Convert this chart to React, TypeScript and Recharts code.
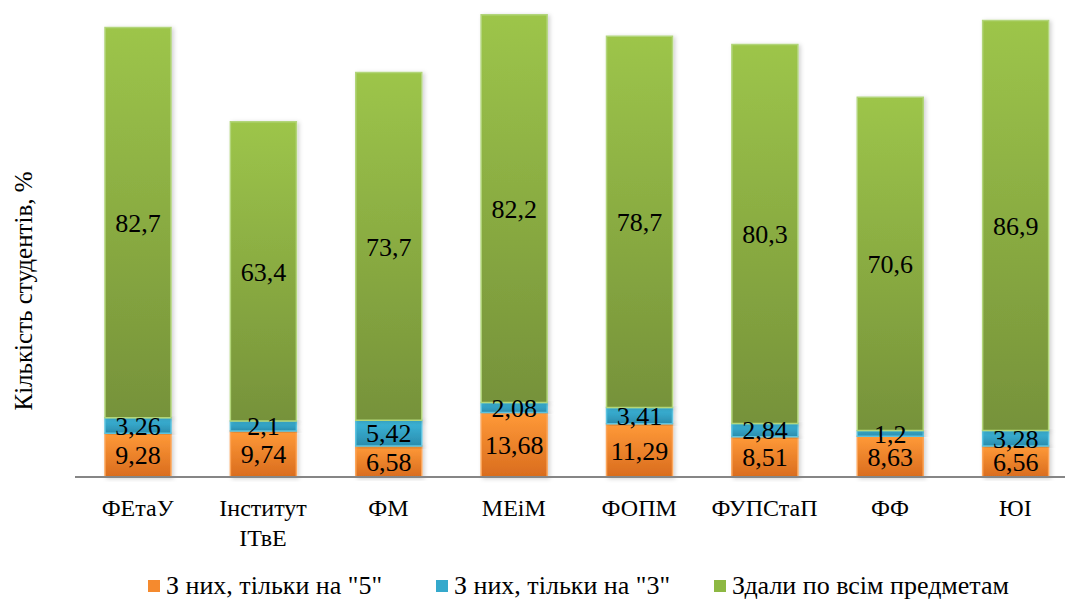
import { Bar, BarChart, LabelList, Legend, XAxis, YAxis } from 'recharts';

const categories = ['ФЕтаУ', 'Інститут ІТвЕ', 'ФМ', 'МЕіМ', 'ФОПМ', 'ФУПСтаП', 'ФФ', 'ЮІ'];
const onlyFive = [9.28, 9.74, 6.58, 13.68, 11.29, 8.51, 8.63, 6.56];
const onlyThree = [3.26, 2.1, 5.42, 2.08, 3.41, 2.84, 1.2, 3.28];
const passedAll = [82.7, 63.4, 73.7, 82.2, 78.7, 80.3, 70.6, 86.9];

const seriesNames = ['З них, тільки на "5"', 'З них, тільки на "3"', 'Здали по всім предметам'];

const data = categories.map((name, i) => ({
  name,
  five: onlyFive[i],
  three: onlyThree[i],
  all: passedAll[i],
}));

const FONT = 'Liberation Serif';
const fmt = (v: unknown) => String(v).replace('.', ',');

const CategoryTick = ({ x, y, payload }: any) => {
  const lines = String(payload.value).split(' ');
  return (
    <text x={x} y={y + 31} textAnchor="middle" fontFamily={FONT} fontSize={24} fill="#000">
      {lines.map((l, i) => (
        <tspan key={i} x={x} dy={i === 0 ? 0 : 30}>
          {l}
        </tspan>
      ))}
    </text>
  );
};

const legendColors = ['#F58A2E', '#35A9CC', '#8DB843'];

const LegendContent = () => (
  <div style={{ position: 'relative', height: 42, fontFamily: FONT, fontSize: 26, color: '#000' }}>
    {seriesNames.map((n, i) => (
      <div
        key={n}
        style={{
          position: 'absolute',
          left: [148, 436, 714][i],
          top: 14,
          display: 'flex',
          alignItems: 'center',
          whiteSpace: 'nowrap',
          lineHeight: '30px',
        }}
      >
        <span style={{ width: 12, height: 12, background: legendColors[i], marginRight: 6, display: 'inline-block' }} />
        {n}
      </div>
    ))}
  </div>
);

export default function App() {
  return (
    <div style={{ position: 'absolute', left: 0, top: 0, width: 1065, height: 599, overflow: 'hidden', background: '#fff' }}>
      <BarChart width={1078} height={599} data={data} margin={{ top: 5, right: 0, bottom: 0, left: 0 }} barSize={66}>
        <defs>
          <linearGradient id="gOrange" x1="0" y1="0" x2="0" y2="1">
            <stop offset="0%" stopColor="#FF9A38" />
            <stop offset="100%" stopColor="#D96C1E" />
          </linearGradient>
          <linearGradient id="gBlue" x1="0" y1="0" x2="0" y2="1">
            <stop offset="0%" stopColor="#3DB8DC" />
            <stop offset="100%" stopColor="#2A8CAD" />
          </linearGradient>
          <linearGradient id="gGreen" x1="0" y1="0" x2="0" y2="1">
            <stop offset="0%" stopColor="#9DC54A" />
            <stop offset="100%" stopColor="#76923A" />
          </linearGradient>
          <filter id="shadow" x="-10%" y="-10%" width="130%" height="120%">
            <feDropShadow dx="2" dy="1" stdDeviation="2" floodColor="#000" floodOpacity="0.18" />
          </filter>
        </defs>
        <XAxis
          dataKey="name"
          height={80}
          interval={0}
          tickLine={false}
          axisLine={{ stroke: '#868686', strokeWidth: 2 }}
          tick={<CategoryTick />}
        />
        <YAxis
          width={75}
          domain={[0, 100]}
          tick={false}
          tickLine={false}
          axisLine={false}
          label={{
            value: 'Кількість студентів, %',
            angle: -90,
            position: 'insideLeft',
            dx: 18,
            dy: 50,
            fontFamily: FONT,
            fontSize: 25,
            fill: '#000',
            textAnchor: 'middle',
          }}
        />
        <Legend verticalAlign="bottom" height={42} content={<LegendContent />} />
        <Bar dataKey="five" stackId="s" fill="url(#gOrange)" stroke="#FBA55A" strokeWidth={1.5} filter="url(#shadow)" isAnimationActive={false}>
          <LabelList dataKey="five" position="center" formatter={fmt} fontFamily={FONT} fontSize={26} fill="#000" />
        </Bar>
        <Bar dataKey="three" stackId="s" fill="url(#gBlue)" stroke="#5CC3E0" strokeWidth={1.5} filter="url(#shadow)" isAnimationActive={false}>
          <LabelList dataKey="three" position="center" formatter={fmt} fontFamily={FONT} fontSize={26} fill="#000" />
        </Bar>
        <Bar dataKey="all" stackId="s" fill="url(#gGreen)" stroke="#B2D57A" strokeWidth={1.5} filter="url(#shadow)" isAnimationActive={false}>
          <LabelList dataKey="all" position="center" formatter={fmt} fontFamily={FONT} fontSize={26} fill="#000" />
        </Bar>
      </BarChart>
    </div>
  );
}
